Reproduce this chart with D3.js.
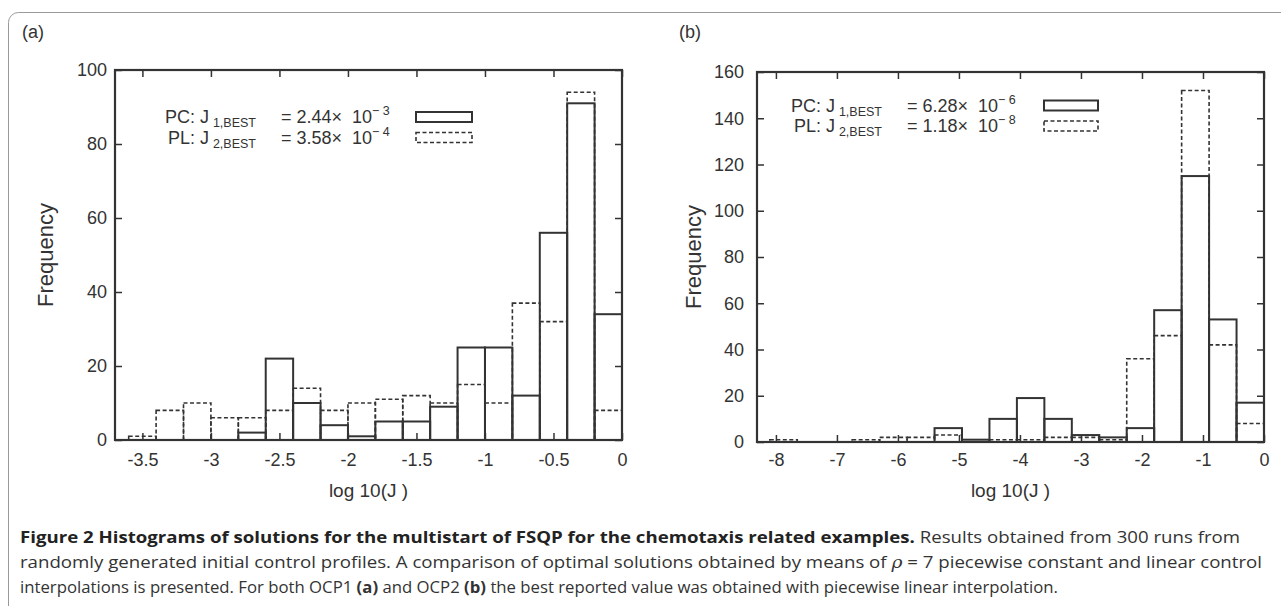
<!DOCTYPE html>
<html>
<head>
<meta charset="utf-8">
<script src="https://cdn.jsdelivr.net/npm/d3@7"></script>
<style>
  body { margin: 0; background: #fff; }
  svg { display: block; }
</style>
</head>
<body>
<script>
// OCP1 (a): bins of width 0.2 on log10(J)
const edgesA = [-3.6, -3.4, -3.2, -3.0, -2.8, -2.6, -2.4, -2.2, -2.0, -1.8, -1.6, -1.4, -1.2, -1.0, -0.8, -0.6, -0.4, -0.2, 0];
const pcA = [0, 0, 0, 0, 2, 22, 10, 4, 1, 5, 5, 9, 25, 25, 12, 56, 91, 34];
const plA = [1, 8, 10, 6, 6, 8, 14, 8, 10, 11, 12, 10, 15, 10, 37, 32, 94, 8];
const xTicksA = [-3.5, -3, -2.5, -2, -1.5, -1, -0.5, 0];
const yTicksA = [0, 20, 40, 60, 80, 100];

// OCP2 (b): bins of width 0.45
const edgesB = [-8.1, -7.65, -7.2, -6.75, -6.3, -5.85, -5.4, -4.95, -4.5, -4.05, -3.6, -3.15, -2.7, -2.25, -1.8, -1.35, -0.9, -0.45, 0];
const pcB = [0, 0, 0, 0, 0, 0, 6, 1, 10, 19, 10, 3, 2, 6, 57, 115, 53, 17];
const plB = [1, 0, 0, 1, 2, 2, 3, 0, 1, 1, 2, 2, 1, 36, 46, 152, 42, 8];
const xTicksB = [-8, -7, -6, -5, -4, -3, -2, -1, 0];
const yTicksB = [0, 20, 40, 60, 80, 100, 120, 140, 160];

const legendA = [["PC: J", "1,BEST", "= 2.44\u00d7  10", "\u2212 3"], ["PL: J", "2,BEST", "= 3.58\u00d7  10", "\u2212 4"]];
const legendB = [["PC: J", "1,BEST", "= 6.28\u00d7  10", "\u2212 6"], ["PL: J", "2,BEST", "= 1.18\u00d7  10", "\u2212 8"]];

const ink = "#333";
const font = "Liberation Sans, Arial, sans-serif";

const svg = d3.select("body").append("svg")
  .attr("width", 1281)
  .attr("height", 606);

// figure frame
svg.append("rect")
  .attr("x", 8.5).attr("y", 12.5)
  .attr("width", 1300).attr("height", 620)
  .attr("rx", 10)
  .attr("fill", "none")
  .attr("stroke", "#999")
  .attr("stroke-width", 1);

function drawPanel(o) {
  let x = d3.scaleLinear().domain(o.xDomain).range([o.left, o.right]);
  let y = d3.scaleLinear().domain(o.yDomain).range([o.bottom, o.top]);
  let g = svg.append("g");

  g.append("text")
    .attr("x", o.tagX).attr("y", 38)
    .style("font-family", font).style("font-size", "18px")
    .attr("fill", ink)
    .text(o.tag);

  // dashed PL boxes under the solid PC boxes
  let bins = o.edges.slice(0, -1).map((e, i) => ({x0: e, x1: o.edges[i + 1], pc: o.pc[i], pl: o.pl[i]}));

  g.selectAll("rect.pl")
    .data(bins.filter(d => d.pl > 0))
    .join("rect")
    .attr("class", "pl")
    .attr("x", d => x(d.x0))
    .attr("y", d => y(d.pl))
    .attr("width", d => x(d.x1) - x(d.x0))
    .attr("height", d => y(0) - y(d.pl))
    .attr("fill", "none")
    .attr("stroke", ink)
    .attr("stroke-width", 1.6)
    .attr("stroke-dasharray", "4,2.5");

  g.selectAll("rect.pc")
    .data(bins.filter(d => d.pc > 0))
    .join("rect")
    .attr("class", "pc")
    .attr("x", d => x(d.x0))
    .attr("y", d => y(d.pc))
    .attr("width", d => x(d.x1) - x(d.x0))
    .attr("height", d => y(0) - y(d.pc))
    .attr("fill", "none")
    .attr("stroke", ink)
    .attr("stroke-width", 2);

  // axes, ticks pointing inwards on all four sides
  let plain = d => String(d);
  let axes = [
    [d3.axisBottom(x).tickValues(o.xTicks).tickSize(-7).tickPadding(o.xPad).tickFormat(plain), o.bottom, "x"],
    [d3.axisTop(x).tickValues(o.xTicks).tickSize(-7).tickFormat(""), o.top, "x"],
    [d3.axisLeft(y).tickValues(o.yTicks).tickSize(-7).tickPadding(o.yPad).tickFormat(plain), o.left, "y"],
    [d3.axisRight(y).tickValues(o.yTicks).tickSize(-7).tickFormat(""), o.right, "y"]
  ];
  axes.forEach(([ax, pos, dir]) => {
    let a = g.append("g")
      .attr("transform", dir == "x" ? `translate(0,${pos})` : `translate(${pos},0)`)
      .call(ax.tickSizeOuter(0));
    a.select(".domain").remove();
    a.selectAll("line").attr("stroke", ink).attr("stroke-width", 1.5);
    a.selectAll("text")
      .attr("fill", ink)
      .style("font-family", font)
      .style("font-size", "18px");
  });

  g.append("rect")
    .attr("x", o.left).attr("y", o.top)
    .attr("width", o.right - o.left).attr("height", o.bottom - o.top)
    .attr("fill", "none")
    .attr("stroke", ink)
    .attr("stroke-width", 2.2);

  g.append("text")
    .attr("transform", `translate(${o.ylabX},${(o.top + o.bottom) / 2}) rotate(-90)`)
    .attr("text-anchor", "middle")
    .attr("dy", "0.35em")
    .style("font-family", font).style("font-size", "22px")
    .attr("fill", ink)
    .text("Frequency");

  g.append("text")
    .attr("x", (o.left + o.right) / 2).attr("y", 497)
    .attr("text-anchor", "middle")
    .style("font-family", font).style("font-size", "19px")
    .attr("fill", ink)
    .text("log 10(J )");

  // legend
  o.legend.forEach((row, i) => {
    let by = o.legY + i * o.legStep;
    let t = g.append("text")
      .attr("x", o.legLabelEnd).attr("y", by)
      .attr("text-anchor", "end")
      .style("font-family", font).style("font-size", "18px")
      .attr("fill", ink);
    t.append("tspan").text(row[0]);
    t.append("tspan").attr("dy", 4).attr("dx", 4).style("font-size", "12.5px").text(row[1]);

    let v = g.append("text")
      .attr("x", o.legValX).attr("y", by)
      .attr("xml:space", "preserve")
      .style("white-space", "pre")
      .style("font-family", font).style("font-size", "18px")
      .attr("fill", ink);
    v.append("tspan").text(row[2]);
    v.append("tspan").attr("dy", -8).style("font-size", "12.5px").text(row[3]);

    g.append("rect")
      .attr("x", o.boxX).attr("y", by - 11)
      .attr("width", o.boxW).attr("height", 10)
      .attr("fill", "none")
      .attr("stroke", ink)
      .attr("stroke-width", i == 0 ? 2 : 1.6)
      .attr("stroke-dasharray", i == 0 ? null : "4,2.5");
  });
}

drawPanel({
  tag: "(a)", tagX: 22,
  left: 115, right: 622, top: 70, bottom: 440,
  xDomain: [-3.7, 0], yDomain: [0, 100],
  edges: edgesA, pc: pcA, pl: plA,
  xTicks: xTicksA, yTicks: yTicksA,
  xPad: 13, yPad: 8, ylabX: 45,
  legend: legendA, legY: 123, legStep: 20.5,
  legLabelEnd: 256, legValX: 281, boxX: 416, boxW: 56
});

drawPanel({
  tag: "(b)", tagX: 679,
  left: 757, right: 1264, top: 72, bottom: 442,
  xDomain: [-8.31, 0], yDomain: [0, 160],
  edges: edgesB, pc: pcB, pl: plB,
  xTicks: xTicksB, yTicks: yTicksB,
  xPad: 11, yPad: 13, ylabX: 693,
  legend: legendB, legY: 111.5, legStep: 20.5,
  legLabelEnd: 882, legValX: 907, boxX: 1044, boxW: 54
});

// caption
const capFont = "Open Sans, Liberation Sans, sans-serif";
const cap = svg.append("g").attr("fill", "#333")
  .style("font-family", capFont).style("font-size", "16.5px");

const c1 = cap.append("text").attr("x", 20).attr("y", 543)
  .attr("textLength", 1220).attr("lengthAdjust", "spacingAndGlyphs");
c1.append("tspan").style("font-weight", "bold").attr("fill", "#222")
  .text("Figure 2 Histograms of solutions for the multistart of FSQP for the chemotaxis related examples.");
c1.append("tspan").text(" Results obtained from 300 runs from");

const c2 = cap.append("text").attr("x", 20).attr("y", 568)
  .attr("textLength", 1242).attr("lengthAdjust", "spacingAndGlyphs");
c2.append("tspan").text("randomly generated initial control profiles. A comparison of optimal solutions obtained by means of ");
c2.append("tspan").style("font-style", "italic").style("font-family", "DejaVu Serif, serif").text("\u03c1");
c2.append("tspan").text(" = 7 piecewise constant and linear control");

const c3 = cap.append("text").attr("x", 20).attr("y", 593)
  .attr("textLength", 1038).attr("lengthAdjust", "spacingAndGlyphs");
c3.append("tspan").text("interpolations is presented. For both OCP1 ");
c3.append("tspan").style("font-weight", "bold").text("(a)");
c3.append("tspan").text(" and OCP2 ");
c3.append("tspan").style("font-weight", "bold").text("(b)");
c3.append("tspan").text(" the best reported value was obtained with piecewise linear interpolation.");
</script>
</body>
</html>
